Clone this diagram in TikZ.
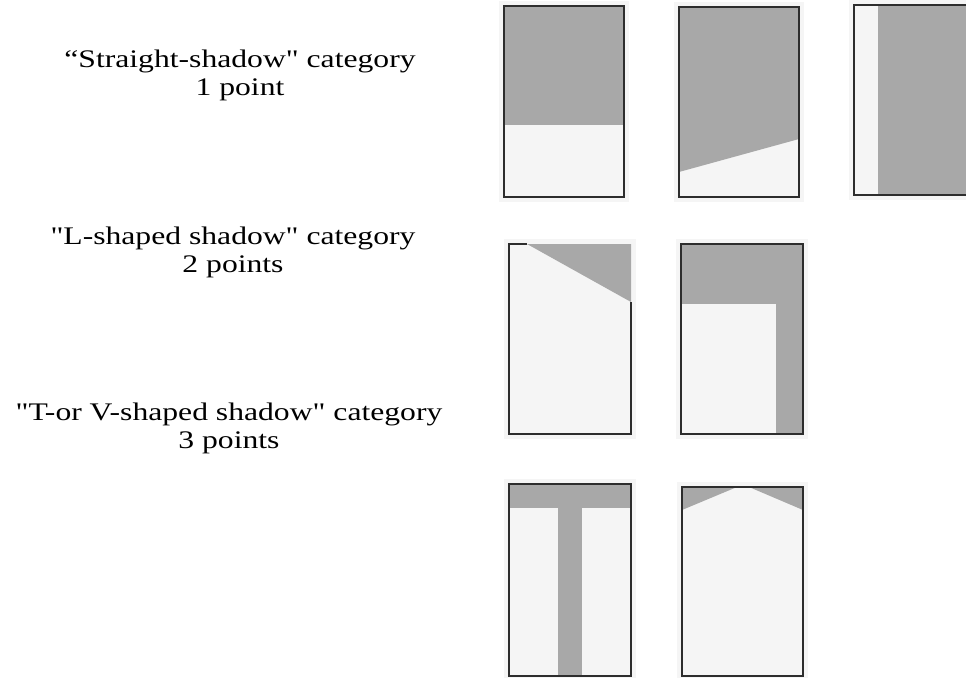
\documentclass[tikz,border=0pt]{standalone}
\usepackage{fontspec}
\newfontfamily\capfont{Liberation Serif}
\usepackage{xcolor}
\definecolor{shadegray}{RGB}{168,168,168}
\definecolor{paper}{RGB}{245,245,245}
\definecolor{frame}{RGB}{45,45,45}

\begin{document}
\begin{tikzpicture}[x=0.025cm, y=-0.025cm, cattext/.style={align=center, font=\capfont\fontsize{18}{20}\selectfont, inner sep=0pt, xscale=1.25, transform shape}, card/.style={draw=frame, line width=1.5pt}, shade/.style={fill=shadegray}]
\clip (0,0) rectangle (966,677);
\fill[white] (0,0) rectangle (966,677);

% paper halo round each card
\foreach \a/\b/\c/\d in {504/6/624/197, 679/7/799/197, 854/5/974/195, 509/244/631/434, 681/244/803/434, 509/484/631/676, 682/487/803/676}
  \fill[paper] (\a-5,\b-5) rectangle (\c+5,\d+5);

% category texts
\node[cattext] (cat1) at (240,75)  {“Straight-shadow" category\\1 point};
\node[cattext] (cat2) at (233,252) {"L-shaped shadow" category\\2 points};
\node[cattext] (cat3) at (229,428) {"T-or V-shaped shadow" category\\3 points};

% straight shadows
\fill[shade] (504,6) rectangle (624,125);
\draw[card] (504,6) rectangle (624,197);
\fill[shade] (679,7) -- (799,7) -- (799,139) -- (679,172) -- cycle;
\draw[card] (679,7) rectangle (799,197);
\fill[shade] (878,5) rectangle (974,195);
\draw[card] (854,5) rectangle (974,195);

% L-shaped shadows
\fill[shade] (527,244) -- (631,244) -- (631,302) -- cycle;
\draw[card] (527,244) -- (509,244) -- (509,434) -- (631,434) -- (631,302);
\fill[shade] (681,244) rectangle (803,434);
\fill[paper] (681,304) rectangle (776,434);
\draw[card] (681,244) rectangle (803,434);

% T- and V-shaped shadows
\fill[shade] (509,484) rectangle (631,508);
\fill[shade] (558,508) rectangle (582,676);
\draw[card] (509,484) rectangle (631,676);
\fill[shade] (682,487) -- (737,487) -- (682,510) -- cycle;
\fill[shade] (749,487) -- (803,487) -- (803,510) -- cycle;
\draw[card] (682,487) rectangle (803,676);
\end{tikzpicture}
\end{document}
